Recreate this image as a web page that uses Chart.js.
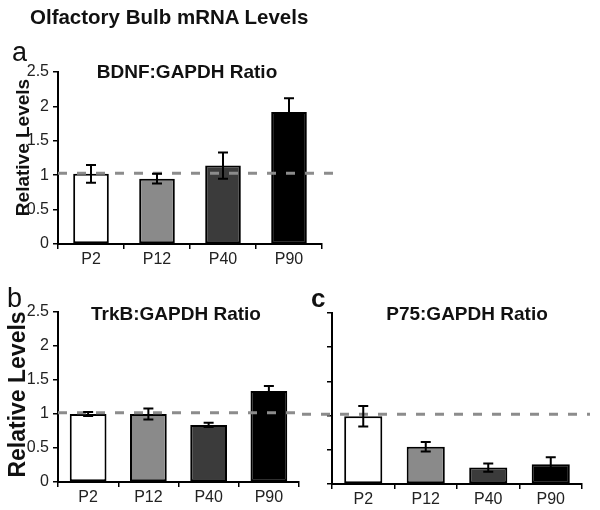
<!DOCTYPE html>
<html>
<head>
<meta charset="utf-8">
<script src="https://cdn.jsdelivr.net/npm/chart.js@4"></script>
<style>
  body { margin: 0; background: #fff; }
  #wrap { position: relative; width: 600px; height: 510px; font-family: "Liberation Sans", Arial, sans-serif; color: #111; overflow: hidden; }
  canvas { position: absolute; }
  .txt { position: absolute; white-space: nowrap; line-height: 1; z-index: 2; }
  .bold { font-weight: bold; }
  .ytitle { position: absolute; width: 220px; text-align: center; font-weight: bold; line-height: 1; transform: rotate(-90deg); z-index: 2; }
</style>
</head>
<body>
<div id="wrap">
  <canvas id="chartA" width="345" height="270" style="left:0;top:0"></canvas>
  <canvas id="chartB" width="300" height="228" style="left:0;top:280px"></canvas>
  <canvas id="chartC" width="300" height="230" style="left:300px;top:280px"></canvas>

  <div class="txt bold" style="left:30px;top:7px;font-size:20.5px">Olfactory Bulb mRNA Levels</div>

  <div class="txt" style="left:12px;top:39px;font-size:27px">a</div>
  <div class="txt" style="left:7px;top:285px;font-size:27px">b</div>
  <div class="txt bold" style="left:311px;top:285px;font-size:26px">c</div>

  <div class="txt bold" style="left:87px;top:62px;width:200px;text-align:center;font-size:19px">BDNF:GAPDH Ratio</div>
  <div class="txt bold" style="left:76px;top:304px;width:200px;text-align:center;font-size:19px">TrkB:GAPDH Ratio</div>
  <div class="txt bold" style="left:367px;top:304px;width:200px;text-align:center;font-size:19px">P75:GAPDH Ratio</div>

  <div class="ytitle" style="left:-88px;top:138px;font-size:19px">Relative Levels</div>
  <div class="ytitle" style="left:-93px;top:383px;font-size:23px">Relative Levels</div>
</div>

<script>
// ages on the x axis
const categories = ['P2', 'P12', 'P40', 'P90'];

// a: BDNF
const bdnfValues = [1.02, 0.95, 1.14, 1.92];
const bdnfErrors = [0.13, 0.07, 0.19, 0.20];

// b: TrkB
const trkbValues = [1.00, 1.00, 0.84, 1.34];
const trkbErrors = [0.03, 0.08, 0.03, 0.07];

// c: P75
const p75Values = [0.99, 0.545, 0.24, 0.29];
const p75Errors = [0.15, 0.07, 0.06, 0.10];

// dashed reference level
const refLevelA = 1.03;
const refLevelBC = 1.02;

const yMax = 2.5;
const yStep = 0.5;

const barColors = ['#ffffff', '#8a8a8a', '#3b3b3b', '#000000'];
const fontFamily = '"Liberation Sans", Arial, sans-serif';

// error bars + dashed line, drawn over the bars
const overlayPlugin = {
    id: 'overlay',
    afterDatasetsDraw(chart, args, opts) {
        const ctx = chart.ctx;
        const y = chart.scales.y;
        const area = chart.chartArea;

        // dashed reference line
        const ly = y.getPixelForValue(opts.refLevel);
        ctx.save();
        ctx.strokeStyle = '#8c8c8c';
        ctx.lineWidth = 3;
        ctx.setLineDash([9, 10]);
        ctx.beginPath();
        ctx.moveTo(opts.lineFrom === 'edge' ? 2 : area.left, ly);
        ctx.lineTo(chart.width - opts.lineEndGap, ly);
        ctx.stroke();
        ctx.restore();

        // error bars
        const meta = chart.getDatasetMeta(0);
        const values = chart.data.datasets[0].data;
        const errors = opts.errors;
        ctx.save();
        ctx.strokeStyle = '#000';
        ctx.lineWidth = 2;
        meta.data.forEach((bar, i) => {
            const top = y.getPixelForValue(values[i] + errors[i]);
            const bot = y.getPixelForValue(values[i] - errors[i]);
            const half = 5;
            ctx.beginPath();
            ctx.moveTo(bar.x, top);
            ctx.lineTo(bar.x, bot);
            ctx.moveTo(bar.x - half, top);
            ctx.lineTo(bar.x + half, top);
            ctx.moveTo(bar.x - half, bot);
            ctx.lineTo(bar.x + half, bot);
            ctx.stroke();
        });
        ctx.restore();
    }
};

function makeChart(id, values, errors, cfg) {
    const ctx = document.getElementById(id).getContext('2d');
    return new Chart(ctx, {
        type: 'bar',
        data: {
            labels: categories,
            datasets: [{
                data: values,
                backgroundColor: barColors,
                borderColor: '#000',
                borderWidth: 2,
                borderSkipped: false,
                categoryPercentage: 1,
                barPercentage: cfg.barPct
            }]
        },
        options: {
            responsive: false,
            animation: false,
            devicePixelRatio: 1,
            layout: { padding: { top: cfg.padTop, right: cfg.padRight, bottom: 0, left: 0 } },
            plugins: {
                legend: { display: false },
                tooltip: { enabled: false },
                overlay: { errors: errors, refLevel: cfg.refLevel, lineFrom: cfg.lineFrom, lineEndGap: cfg.lineEndGap }
            },
            scales: {
                x: {
                    grid: { drawOnChartArea: false, drawTicks: true, tickLength: 5, color: '#000', lineWidth: 1.5, offset: true },
                    border: { color: '#000', width: 2 },
                    ticks: { color: '#222', padding: 1, font: { family: fontFamily, size: 16 } },
                    afterFit(scale) { scale.height = 26; }
                },
                y: {
                    min: 0,
                    max: yMax,
                    grid: { drawOnChartArea: false, drawTicks: true, tickLength: 5, color: '#000', lineWidth: 1.5 },
                    border: { color: '#000', width: 2 },
                    ticks: {
                        stepSize: yStep,
                        color: '#222',
                        padding: 4,
                        font: { family: fontFamily, size: 16 },
                        callback: cfg.showYLabels ? (v) => v : () => ''
                    },
                    afterFit(scale) { scale.width = cfg.yWidth; }
                }
            }
        },
        plugins: [overlayPlugin]
    });
}

makeChart('chartA', bdnfValues, bdnfErrors, {
    barPct: 0.54, padTop: 72, padRight: 23, yWidth: 58, showYLabels: true,
    refLevel: refLevelA, lineFrom: 'axis', lineEndGap: 5
});
makeChart('chartB', trkbValues, trkbErrors, {
    barPct: 0.61, padTop: 32, padRight: 1, yWidth: 58, showYLabels: true,
    refLevel: refLevelBC, lineFrom: 'axis', lineEndGap: 0
});
makeChart('chartC', p75Values, p75Errors, {
    barPct: 0.61, padTop: 33, padRight: 18, yWidth: 32, showYLabels: false,
    refLevel: refLevelBC, lineFrom: 'edge', lineEndGap: 10
});
</script>
</body>
</html>
